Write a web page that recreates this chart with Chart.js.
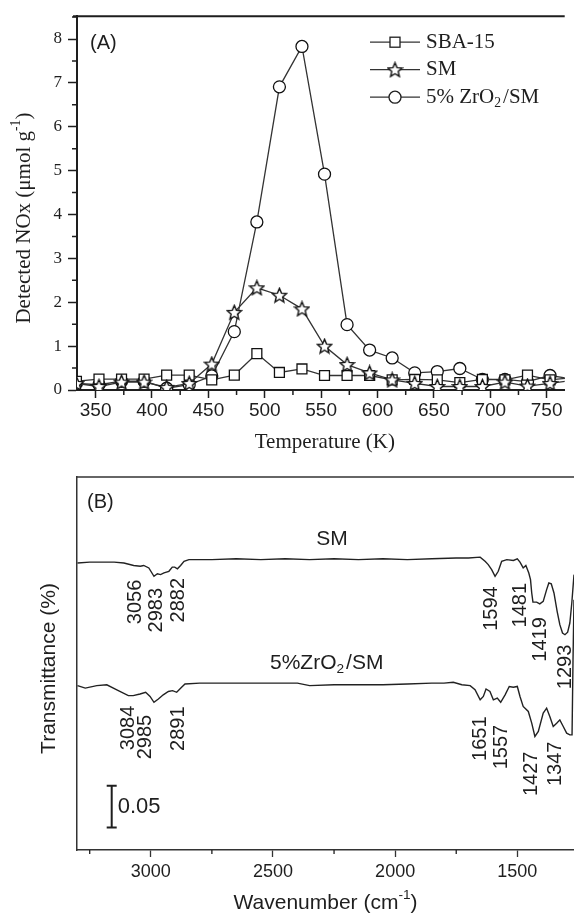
<!DOCTYPE html>
<html>
<head>
<meta charset="utf-8">
<script src="https://cdn.jsdelivr.net/npm/chart.js@4.4.0/dist/chart.umd.min.js"></script>
<style>
    body { margin: 0; background: #fff; }
    #wrap { position: relative; width: 574px; height: 915px; }
    canvas { position: absolute; left: 0; }
    #chartA { top: 0; }
    #chartB { top: 460px; }
</style>
</head>
<body>
<div id="wrap">
    <canvas id="chartA" width="574" height="460"></canvas>
    <canvas id="chartB" width="574" height="455"></canvas>
</div>
<script>
// (A) NOx desorption
const temps = [333, 353, 373, 393, 413, 433, 453, 473, 493, 513, 533, 553, 573, 593, 613, 633, 653, 673, 693, 713, 733, 753, 773];
const sba15 = [0.20, 0.25, 0.25, 0.25, 0.34, 0.34, 0.23, 0.34, 0.83, 0.40, 0.48, 0.33, 0.33, 0.33, 0.23, 0.24, 0.23, 0.17, 0.24, 0.23, 0.34, 0.23, 0.28];
const smNox = [0.15, 0.08, 0.18, 0.18, 0.06, 0.15, 0.59, 1.77, 2.33, 2.16, 1.85, 1.00, 0.58, 0.39, 0.23, 0.15, 0.08, 0.08, 0.08, 0.18, 0.09, 0.15, 0.22];
const zrNox = [0.15, 0.12, 0.20, 0.20, 0.04, 0.12, 0.32, 1.33, 3.83, 6.91, 7.83, 4.92, 1.49, 0.91, 0.73, 0.39, 0.42, 0.49, 0.24, 0.24, 0.19, 0.33, 0.25];
const tempTicks = [350, 400, 450, 500, 550, 600, 650, 700, 750];
const noxTicks = [0, 1, 2, 3, 4, 5, 6, 7, 8];
const tempRange = [333.5, 766];
const noxRange = [0, 8.52];

// (B) FTIR spectra
const smWave = [3300, 3250, 3200, 3150, 3110, 3070, 3043, 3029, 3008, 2987, 2973, 2960, 2946, 2926, 2912, 2902, 2891, 2878, 2864, 2844, 2750, 2650, 2550, 2450, 2350, 2250, 2150, 2050, 1950, 1850, 1750, 1700, 1652, 1632, 1619, 1605, 1591, 1578, 1564, 1543, 1516, 1500, 1489, 1476, 1465, 1453, 1446, 1441, 1436, 1421, 1408, 1394, 1380, 1371, 1361, 1350, 1337, 1326, 1315, 1305, 1294, 1285, 1277, 1268];
const smSignal = [0.344, 0.345, 0.345, 0.345, 0.344, 0.341, 0.340, 0.341, 0.338, 0.328, 0.331, 0.330, 0.332, 0.334, 0.339, 0.339, 0.337, 0.341, 0.346, 0.348, 0.348, 0.349, 0.348, 0.349, 0.348, 0.349, 0.348, 0.349, 0.348, 0.349, 0.350, 0.350, 0.351, 0.346, 0.342, 0.336, 0.328, 0.334, 0.346, 0.348, 0.347, 0.349, 0.345, 0.338, 0.341, 0.332, 0.324, 0.308, 0.297, 0.297, 0.295, 0.298, 0.312, 0.320, 0.319, 0.308, 0.286, 0.270, 0.260, 0.258, 0.261, 0.272, 0.296, 0.330];
const zrWave = [3300, 3268, 3221, 3180, 3139, 3092, 3072, 3044, 3021, 3003, 2987, 2969, 2949, 2928, 2911, 2894, 2874, 2860, 2800, 2700, 2600, 2500, 2400, 2350, 2250, 2150, 2050, 1950, 1850, 1800, 1762, 1727, 1693, 1673, 1652, 1639, 1628, 1612, 1598, 1582, 1568, 1550, 1533, 1516, 1500, 1489, 1476, 1455, 1441, 1428, 1414, 1394, 1380, 1367, 1353, 1339, 1326, 1312, 1298, 1285, 1276, 1272, 1268];
const zrSignal = [0.197, 0.194, 0.197, 0.198, 0.192, 0.185, 0.185, 0.187, 0.189, 0.184, 0.177, 0.181, 0.186, 0.190, 0.191, 0.189, 0.195, 0.199, 0.200, 0.200, 0.200, 0.200, 0.200, 0.197, 0.198, 0.198, 0.198, 0.199, 0.200, 0.200, 0.201, 0.198, 0.197, 0.192, 0.180, 0.184, 0.193, 0.190, 0.180, 0.182, 0.177, 0.186, 0.196, 0.195, 0.196, 0.184, 0.172, 0.166, 0.152, 0.136, 0.142, 0.164, 0.170, 0.160, 0.148, 0.152, 0.156, 0.148, 0.140, 0.138, 0.138, 0.228, 0.300];
const waveTicks = [3000, 2500, 2000, 1500];
const waveRange = [1268, 3302];
const signalRange = [0, 0.447];

const smPeakLabels = ["3056", "2983", "2882", "1594", "1481", "1419", "1293"];
const smPeakWave = [3062, 2976, 2888, 1605, 1489, 1406, 1302];
const smPeakTop = [0.324, 0.314, 0.326, 0.316, 0.320, 0.279, 0.246];
const zrPeakLabels = ["3084", "2985", "2891", "1651", "1557", "1427", "1347"];
const zrPeakWave = [3090, 3021, 2886, 1652, 1564, 1440, 1342];
const zrPeakTop = [0.173, 0.162, 0.172, 0.160, 0.150, 0.118, 0.130];

const SERIF = "'Liberation Serif', 'Times New Roman', serif";
const SANS = "'Liberation Sans', Arial, sans-serif";
const INK = "#1e1e1e";

function makeStar(size) {
    const c = document.createElement("canvas");
    c.width = c.height = size;
    const g = c.getContext("2d");
    const cx = size / 2, cy = size / 2 + 0.6, R = size / 2 - 1, r = R * 0.45;
    g.beginPath();
    for (let i = 0; i < 10; i++) {
        const a = -Math.PI / 2 + i * Math.PI / 5;
        const rr = i % 2 ? r : R;
        g.lineTo(cx + rr * Math.cos(a), cy + rr * Math.sin(a));
    }
    g.closePath();
    g.fillStyle = "#fff";
    g.fill();
    g.lineWidth = 1.4;
    g.strokeStyle = "#111";
    g.stroke();
    return c;
}
const starImg = makeStar(17);

// text with sub/superscript pieces
function richWidth(ctx, parts, size, family) {
    let w = 0;
    parts.forEach(p => {
        ctx.font = `${p.s ? size * 0.65 : size}px ${family}`;
        w += ctx.measureText(p.t).width + (p.gap || 0);
    });
    return w;
}
function drawRich(ctx, parts, x, y, size, family) {
    const total = richWidth(ctx, parts, size, family);
    let cx = x - total / 2;
    ctx.textAlign = "left";
    ctx.textBaseline = "middle";
    parts.forEach(p => {
        ctx.font = `${p.s ? size * 0.65 : size}px ${family}`;
        let dy = 0;
        if (p.s === "sub") dy = size * 0.3;
        if (p.s === "sup") dy = -size * 0.38;
        ctx.fillText(p.t, cx, y + dy);
        cx += ctx.measureText(p.t).width + (p.gap || 0);
    });
}

function drawMinor(ctx, scale, step, len, lw) {
    const vals = scale.ticks.map(t => t.value);
    let v = Math.min(...vals) - step / 2;
    while (v - step >= scale.min) v -= step;
    ctx.lineWidth = lw;
    ctx.strokeStyle = INK;
    ctx.beginPath();
    for (; v <= scale.max; v += step) {
        if (v < scale.min) continue;
        const p = scale.getPixelForValue(v);
        if (scale.isHorizontal()) {
            ctx.moveTo(p, scale.top);
            ctx.lineTo(p, scale.top + len);
        } else {
            ctx.moveTo(scale.right - len, p);
            ctx.lineTo(scale.right, p);
        }
    }
    ctx.stroke();
}

function legendMarker(ctx, kind, x, y) {
    ctx.lineWidth = 1.3;
    ctx.strokeStyle = INK;
    ctx.fillStyle = "#fff";
    if (kind === "rect") {
        ctx.fillRect(x - 5, y - 5, 10, 10);
        ctx.strokeRect(x - 5, y - 5, 10, 10);
    } else if (kind === "circle") {
        ctx.beginPath();
        ctx.arc(x, y, 6, 0, Math.PI * 2);
        ctx.fill();
        ctx.stroke();
    } else {
        ctx.drawImage(starImg, x - starImg.width / 2, y - starImg.height / 2);
    }
}

const decorA = {
    id: "decorA",
    afterDraw(chart) {
        const { ctx, chartArea: a, scales: { x, y } } = chart;
        ctx.save();
        ctx.strokeStyle = INK;
        ctx.lineWidth = 2;
        ctx.beginPath();
        ctx.moveTo(a.left - 4, a.top);
        ctx.lineTo(a.right, a.top);
        ctx.stroke();
        drawMinor(ctx, x, 50, 5, 1.5);
        drawMinor(ctx, y, 1, 5, 1.5);

        // legend
        const entries = [
            { kind: "rect", parts: [{ t: "SBA-15" }] },
            { kind: "star", parts: [{ t: "SM" }] },
            { kind: "circle", parts: [{ t: "5% ZrO" }, { t: "2", s: "sub", gap: 2 }, { t: "/SM" }] }
        ];
        entries.forEach((e, i) => {
            const ly = a.top + 26 + i * 27.5;
            const lx = a.left + 293;
            ctx.strokeStyle = "#333";
            ctx.lineWidth = 1.3;
            ctx.beginPath();
            ctx.moveTo(lx, ly);
            ctx.lineTo(lx + 50, ly);
            ctx.stroke();
            legendMarker(ctx, e.kind, lx + 25, ly);
            ctx.fillStyle = INK;
            const w = richWidth(ctx, e.parts, 21, SERIF);
            drawRich(ctx, e.parts, lx + 56 + w / 2, ly, 21, SERIF);
        });

        ctx.fillStyle = INK;
        ctx.font = `20px ${SANS}`;
        ctx.textAlign = "left";
        ctx.textBaseline = "middle";
        ctx.fillText("(A)", a.left + 13, a.top + 27);

        // axis titles
        drawRich(ctx, [{ t: "Temperature (K)" }], (a.left + a.right) / 2 + 4, a.bottom + 52, 21, SERIF);
        ctx.save();
        ctx.translate(a.left - 53, (a.top + a.bottom) / 2 + 15);
        ctx.rotate(-Math.PI / 2);
        drawRich(ctx, [{ t: "Detected NOx (\u03bcmol g" }, { t: "-1", s: "sup" }, { t: ")" }], 0, 0, 21, SERIF);
        ctx.restore();
        ctx.restore();
    }
};

const decorB = {
    id: "decorB",
    afterDraw(chart) {
        const { ctx, chartArea: a, scales: { x, y } } = chart;
        ctx.save();
        ctx.strokeStyle = "#333";
        ctx.lineWidth = 1.5;
        ctx.beginPath();
        ctx.moveTo(a.left, a.top);
        ctx.lineTo(a.right, a.top);
        ctx.stroke();
        drawMinor(ctx, x, 500, 4, 1.3);

        ctx.fillStyle = INK;
        ctx.font = `20px ${SANS}`;
        ctx.textAlign = "left";
        ctx.textBaseline = "middle";
        ctx.fillText("(B)", a.left + 10, a.top + 25);

        drawRich(ctx, [{ t: "SM" }], x.getPixelForValue(2258), y.getPixelForValue(0.372), 21, SANS);
        drawRich(ctx, [{ t: "5%ZrO" }, { t: "2", s: "sub", gap: 2 }, { t: "/SM" }], x.getPixelForValue(2280), y.getPixelForValue(0.224), 21, SANS);

        const peaks = (labels, waves, tops) => {
            labels.forEach((lab, i) => {
                ctx.save();
                ctx.translate(x.getPixelForValue(waves[i]), y.getPixelForValue(tops[i]));
                ctx.rotate(-Math.PI / 2);
                ctx.font = `20px ${SANS}`;
                ctx.textAlign = "right";
                ctx.textBaseline = "middle";
                ctx.fillText(lab, 0, 0);
                ctx.restore();
            });
        };
        peaks(smPeakLabels, smPeakWave, smPeakTop);
        peaks(zrPeakLabels, zrPeakWave, zrPeakTop);

        // 0.05 scale bar
        const bx = x.getPixelForValue(3160);
        const b0 = y.getPixelForValue(0.027), b1 = y.getPixelForValue(0.077);
        ctx.strokeStyle = INK;
        ctx.lineWidth = 2;
        ctx.beginPath();
        ctx.moveTo(bx, b0); ctx.lineTo(bx, b1);
        ctx.moveTo(bx - 5, b0); ctx.lineTo(bx + 5, b0);
        ctx.moveTo(bx - 5, b1); ctx.lineTo(bx + 5, b1);
        ctx.stroke();
        ctx.font = `22px ${SANS}`;
        ctx.textAlign = "left";
        ctx.fillText("0.05", bx + 6, (b0 + b1) / 2);

        drawRich(ctx, [{ t: "Wavenumber (cm" }, { t: "-1", s: "sup" }, { t: ")" }], (a.left + a.right) / 2, a.bottom + 53, 21, SANS);
        ctx.save();
        ctx.translate(a.left - 28, (a.top + a.bottom) / 2 + 5);
        ctx.rotate(-Math.PI / 2);
        drawRich(ctx, [{ t: "Transmittance (%)" }], 0, 0, 21, SANS);
        ctx.restore();
        ctx.restore();
    }
};

function series(xs, ys) {
    return xs.map((v, i) => ({ x: v, y: ys[i] }));
}
function fixedTicks(values) {
    return (scale) => { scale.ticks = values.map(v => ({ value: v })); };
}

const lineStyle = { borderColor: "#333", borderWidth: 1.3, pointBackgroundColor: "#fff", pointBorderColor: "#111", pointBorderWidth: 1.3, tension: 0 };

new Chart(document.getElementById("chartA"), {
    type: "line",
    data: {
        datasets: [
            { ...lineStyle, label: "SM", data: series(temps, smNox), pointStyle: starImg, pointRadius: 8, order: 1 },
            { ...lineStyle, label: "SBA-15", data: series(temps, sba15), pointStyle: "rect", pointRadius: 7, order: 2 },
            { ...lineStyle, label: "5% ZrO2/SM", data: series(temps, zrNox), pointStyle: "circle", pointRadius: 6, order: 3 }
        ]
    },
    options: {
        responsive: false,
        animation: false,
        devicePixelRatio: 1,
        layout: { padding: { top: 15, left: 0, right: 0, bottom: 0 } },
        plugins: { legend: { display: false }, tooltip: { enabled: false } },
        scales: {
            x: {
                type: "linear",
                min: tempRange[0],
                max: tempRange[1],
                afterBuildTicks: fixedTicks(tempTicks),
                afterFit: (s) => { s.height = 70; },
                ticks: { color: INK, padding: 1, font: { family: SANS, size: 19 }, callback: (v) => String(v) },
                grid: { display: true, drawOnChartArea: false, drawTicks: true, tickLength: 8, tickColor: INK, tickWidth: 1.5 },
                border: { display: true, color: INK, width: 2 }
            },
            y: {
                min: noxRange[0],
                max: noxRange[1],
                afterBuildTicks: fixedTicks(noxTicks),
                afterFit: (s) => { s.width = 77; },
                ticks: { color: INK, padding: 6, font: { family: SERIF, size: 17 }, callback: (v) => String(v) },
                grid: { display: true, drawOnChartArea: false, drawTicks: true, tickLength: 9, tickColor: INK, tickWidth: 1.5 },
                border: { display: true, color: INK, width: 2 }
            }
        }
    },
    plugins: [decorA]
});

new Chart(document.getElementById("chartB"), {
    type: "line",
    data: {
        datasets: [
            { label: "SM", data: series(smWave, smSignal), borderColor: "#222", borderWidth: 1.4, pointRadius: 0, tension: 0 },
            { label: "5%ZrO2/SM", data: series(zrWave, zrSignal), borderColor: "#222", borderWidth: 1.4, pointRadius: 0, tension: 0 }
        ]
    },
    options: {
        responsive: false,
        animation: false,
        devicePixelRatio: 1,
        layout: { padding: { top: 17, left: 0, right: 0, bottom: 0 } },
        plugins: { legend: { display: false }, tooltip: { enabled: false } },
        scales: {
            x: {
                type: "linear",
                reverse: true,
                min: waveRange[0],
                max: waveRange[1],
                afterBuildTicks: fixedTicks(waveTicks),
                afterFit: (s) => { s.height = 65; },
                ticks: { color: INK, padding: 4, font: { family: SANS, size: 18 }, callback: (v) => String(v) },
                grid: { display: true, drawOnChartArea: false, drawTicks: true, tickLength: 7, tickColor: "#333", tickWidth: 1.3 },
                border: { display: true, color: "#333", width: 1.5 }
            },
            y: {
                min: signalRange[0],
                max: signalRange[1],
                afterFit: (s) => { s.width = 77; },
                ticks: { display: false },
                grid: { display: false, drawTicks: false },
                border: { display: true, color: "#333", width: 1.5 }
            }
        }
    },
    plugins: [decorB]
});
</script>
</body>
</html>
